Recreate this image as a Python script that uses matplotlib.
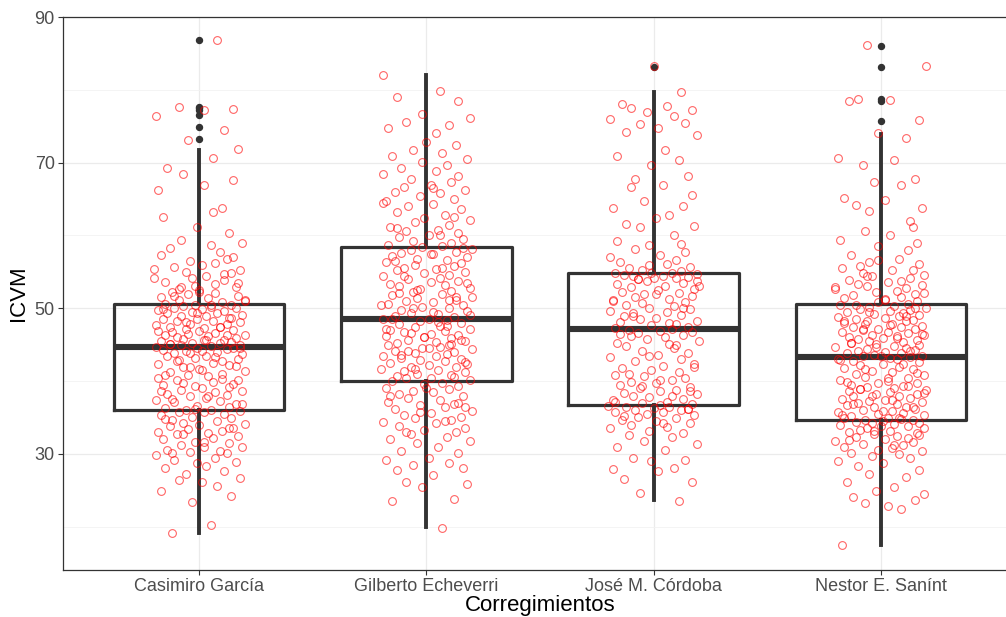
import matplotlib
matplotlib.use("Agg")
import matplotlib.pyplot as plt
from matplotlib.ticker import FixedLocator

categories = ["Casimiro García", "Gilberto Echeverri", "José M. Córdoba", "Nestor E. Sanínt"]

# Box statistics
whislo = [19.2, 20.0, 23.7, 17.5]
q1 = [36.0, 40.0, 36.7, 34.7]
med = [44.7, 48.5, 47.2, 43.3]
q3 = [50.6, 58.4, 54.9, 50.6]
whishi = [71.8, 82.1, 79.7, 74.0]
fliers_C = [73.3, 74.9, 76.5, 77.2, 77.5, 77.7, 86.9]
fliers_G = []
fliers_J = [83.2]
fliers_N = [75.7, 78.4, 78.8, 83.2, 86.0]

# Jittered observations (ICVM values)
C_y = [19.2, 20.3, 23.4, 24.2, 24.9, 25.6, 26.1, 26.4, 26.7, 27.2, 27.6, 28.1, 28.4, 28.7, 28.9, 29.2, 29.5, 29.8, 30.1, 30.3,
       30.4, 30.6, 30.9, 31.0, 31.2, 31.5, 31.7, 32.0, 32.2, 32.5, 32.7, 32.9, 33.0, 33.2, 33.4, 33.6, 33.9, 34.0, 34.1, 34.3,
       34.5, 34.7, 34.9, 35.1, 35.3, 35.5, 35.7, 35.8, 35.9, 36.0,
       36.1, 36.3, 36.5, 36.6, 36.9, 37.1, 37.3, 37.4, 37.7, 37.9, 38.1, 38.2, 38.5, 38.7, 38.8, 39.0, 39.3, 39.5, 39.6, 39.9,
       40.1, 40.2, 40.5, 40.7, 40.9, 41.0, 41.3, 41.4, 41.6, 41.9, 42.0, 42.2, 42.4, 42.5, 42.7, 42.9, 43.0, 43.2, 43.4, 43.5,
       43.7, 43.8, 44.0, 44.1, 44.2, 44.3, 44.4, 44.5, 44.6, 44.7,
       44.8, 44.9, 45.0, 45.1, 45.2, 45.3, 45.4, 45.5, 45.6, 45.7, 45.8, 45.9, 46.0, 46.2, 46.3, 46.4, 46.5, 46.6, 46.8, 46.9,
       47.0, 47.1, 47.3, 47.4, 47.5, 47.7, 47.8, 47.9, 48.1, 48.2, 48.3, 48.5, 48.6, 48.7, 48.9, 49.0, 49.1, 49.3, 49.4, 49.5,
       49.7, 49.8, 49.9, 50.0, 50.1, 50.2, 50.3, 50.4, 50.5, 50.6,
       50.8, 51.0, 51.2, 51.4, 51.5, 51.7, 51.9, 52.1, 52.3, 52.5, 52.7, 52.9, 53.0, 53.3, 53.6, 53.9, 54.2, 54.5, 54.9, 55.0,
       55.3, 55.7, 56.0, 56.5, 56.8, 57.3, 57.7, 58.3, 58.7, 59.0, 59.4, 60.3, 61.2, 62.5, 63.2, 63.8, 66.2, 66.9, 67.6, 68.5,
       69.2, 70.6, 71.9, 73.1, 74.5, 76.4, 77.2, 77.4, 77.6, 86.8,
       36.2, 36.8, 37.5, 38.0, 38.6, 39.2, 39.8, 40.3, 40.9, 41.5, 42.1, 42.7, 43.3, 43.9, 44.5, 45.1, 45.7, 46.3, 46.9, 47.5,
       48.1, 48.7, 49.3, 49.9, 50.5, 51.1, 51.7, 52.3, 52.9, 53.5, 54.1, 54.7, 55.4, 56.2, 57.0, 30.2, 31.6, 32.8, 33.5, 34.8,
       35.4, 27.0, 29.0, 31.1, 33.1, 35.0, 41.1, 43.6, 46.1, 48.8]
G_y = [19.8, 23.5, 23.8, 25.5, 25.9, 26.2, 27.1, 27.8, 28.1, 28.5, 28.8, 29.2, 29.5, 30.1, 30.4, 31.0, 31.5, 31.8, 32.0, 32.4,
       32.7, 33.0, 33.3, 33.6, 33.9, 34.2, 34.4, 34.6, 34.9, 35.1, 35.4, 35.6, 35.9, 36.2, 36.5, 36.7, 36.9, 37.2, 37.4, 37.7,
       37.9, 38.2, 38.5, 38.7, 38.9, 39.1, 39.4, 39.6, 39.8, 40.0,
       40.2, 40.4, 40.5, 40.7, 40.9, 41.0, 41.2, 41.4, 41.5, 41.7, 41.9, 42.0, 42.2, 42.4, 42.5, 42.7, 42.9, 43.0, 43.2, 43.4,
       43.5, 43.7, 43.9, 44.0, 44.2, 44.4, 44.5, 44.7, 44.9, 45.0, 45.2, 45.4, 45.5, 45.7, 45.9, 46.0, 46.2, 46.4, 46.5, 46.7,
       46.9, 47.0, 47.2, 47.4, 47.6, 47.8, 48.0, 48.2, 48.4, 48.5,
       48.6, 48.8, 49.0, 49.2, 49.4, 49.6, 49.8, 50.0, 50.2, 50.4, 50.6, 50.8, 51.0, 51.2, 51.4, 51.6, 51.8, 52.0, 52.2, 52.4,
       52.6, 52.8, 53.0, 53.2, 53.4, 53.6, 53.8, 54.0, 54.2, 54.4, 54.6, 54.8, 55.0, 55.2, 55.4, 55.6, 55.8, 56.0, 56.2, 56.4,
       56.6, 56.8, 57.0, 57.2, 57.4, 57.6, 57.8, 58.0, 58.2, 58.4,
       58.5, 58.7, 59.0, 59.2, 59.5, 59.8, 60.1, 60.3, 60.6, 60.8, 61.2, 61.5, 61.8, 62.1, 62.4, 62.8, 63.2, 63.6, 64.0, 64.3,
       64.7, 65.0, 65.4, 65.8, 66.0, 66.3, 66.7, 67.0, 67.4, 67.8, 68.1, 68.5, 68.8, 69.3, 69.7, 70.1, 70.5, 70.9, 71.3, 71.8,
       72.4, 72.9, 74.1, 74.8, 75.2, 75.6, 76.2, 76.7, 78.4, 79.0, 79.9, 82.1,
       40.6, 41.6, 42.6, 43.6, 44.6, 45.6, 46.6, 47.6, 48.6, 49.5, 50.5, 51.5, 52.5, 53.5, 54.5, 55.5, 56.5, 57.5, 58.3, 44.1,
       45.1, 46.1, 47.1, 48.1, 49.1, 50.1, 51.1, 52.1, 34.5, 35.8, 37.0, 38.0, 39.0, 36.4, 33.0, 60.0, 61.0, 62.5, 64.5, 66.5,
       68.3, 70.3, 42.1, 43.1, 53.1, 54.1, 55.1, 56.1, 31.2, 29.8]
J_y = [23.5, 24.7, 26.2, 26.5, 27.6, 27.9, 28.1, 29.0, 29.2, 29.4, 30.5, 31.0, 31.4, 31.8, 32.3, 32.6, 32.9, 33.2, 33.5, 33.7,
       34.0, 34.3, 34.5, 34.7, 34.9, 35.1, 35.3, 35.5, 35.7, 35.8, 36.0, 36.1, 36.2, 36.3, 36.4, 36.5, 36.6, 36.7,
       36.8, 37.0, 37.2, 37.4, 37.6, 37.8, 38.0, 38.2, 38.4, 38.6, 38.8, 39.0, 39.2, 39.5, 39.7, 39.9, 40.2, 40.4, 40.7, 40.9,
       41.2, 41.5, 41.8, 42.1, 42.4, 42.7, 43.0, 43.3, 43.6, 43.9, 44.2, 44.5, 44.8, 45.1, 45.3, 45.5, 45.8, 46.0, 46.2, 46.4,
       46.6, 46.8, 46.9, 47.0, 47.1,
       47.3, 47.5, 47.7, 47.9, 48.1, 48.3, 48.5, 48.7, 48.9, 49.1, 49.3, 49.5, 49.7, 49.9, 50.1, 50.3, 50.5, 50.7, 50.9, 51.1,
       51.3, 51.5, 51.7, 51.9, 52.1, 52.3, 52.5, 52.7, 52.9, 53.1, 53.3, 53.5, 53.7, 53.8, 54.0, 54.1, 54.2, 54.3, 54.4, 54.5,
       54.6, 54.7, 54.8, 54.9, 54.9,
       55.1, 55.3, 55.5, 55.7, 55.9, 56.1, 56.4, 56.7, 57.1, 57.3, 57.8, 58.2, 58.7, 58.9, 59.3, 60.0, 61.1, 61.3, 61.6, 62.4,
       62.8, 63.8, 64.1, 64.8, 65.5, 66.6, 67.0, 67.8, 68.2, 69.7, 70.3, 70.9, 71.8, 73.8, 74.2, 74.8, 75.3, 75.5, 76.0, 76.4,
       76.9, 77.2, 77.5, 77.8, 78.1, 79.7, 83.3,
       37.1, 37.9, 38.7, 39.4, 40.1, 41.0, 42.0, 43.5, 45.0, 46.5, 48.0, 49.0, 50.0, 51.0, 52.0, 53.0, 54.0, 34.2, 35.2, 36.2,
       33.0, 31.2, 29.8, 38.3, 39.1, 55.8, 57.5, 60.5, 63.0, 65.8, 44.0, 47.6, 50.6, 53.6, 28.5, 30.8, 40.6, 42.6, 52.6, 76.6]
N_y = [17.5, 22.5, 22.9, 23.3, 23.7, 24.1, 24.5, 24.9, 25.5, 26.2, 26.8, 27.3, 27.8, 28.3, 28.8, 29.1, 29.4, 29.7, 30.0, 30.2,
       30.4, 30.6, 30.8, 31.0, 31.2, 31.4, 31.6, 31.8, 32.0, 32.2, 32.4, 32.5, 32.7, 32.9, 33.0, 33.2, 33.3, 33.5, 33.6, 33.8,
       33.9, 34.0, 34.1, 34.2, 34.3, 34.4, 34.5, 34.6, 34.7,
       34.8, 34.9, 35.0, 35.2, 35.3, 35.5, 35.6, 35.8, 35.9, 36.1, 36.2, 36.4, 36.5, 36.7, 36.8, 37.0, 37.1, 37.3, 37.4, 37.6,
       37.7, 37.9, 38.0, 38.2, 38.3, 38.5, 38.6, 38.8, 38.9, 39.1, 39.2, 39.4, 39.5, 39.7, 39.8, 40.0, 40.2, 40.4, 40.6, 40.8,
       41.0, 41.2, 41.4, 41.6, 41.8, 42.0, 42.2, 42.4, 42.6, 42.8, 43.0, 43.1, 43.2, 43.3,
       43.4, 43.5, 43.6, 43.8, 43.9, 44.0, 44.2, 44.3, 44.4, 44.6, 44.7, 44.8, 45.0, 45.1, 45.2, 45.4, 45.5, 45.6, 45.8, 45.9,
       46.0, 46.2, 46.3, 46.4, 46.6, 46.7, 46.8, 47.0, 47.1, 47.2, 47.4, 47.5, 47.6, 47.8, 47.9, 48.0, 48.2, 48.3, 48.4, 48.6,
       48.7, 48.8, 49.0, 49.1, 49.2, 49.4, 49.5, 49.6, 49.8, 49.9, 50.0, 50.2, 50.3, 50.4, 50.6,
       50.8, 51.0, 51.2, 51.4, 51.6, 51.8, 52.0, 52.2, 52.4, 52.6, 52.8, 53.0, 53.2, 53.4, 53.6, 53.9, 54.1, 54.4, 54.6, 54.9,
       55.2, 55.5, 55.8, 56.1, 56.4, 56.8, 57.3, 58.0, 58.5, 59.0, 59.4, 60.1, 60.6, 61.2, 62.0, 63.3, 63.8, 64.2, 64.9, 65.2,
       67.0, 67.3, 67.8, 69.7, 70.3, 70.7, 73.4, 74.1, 75.9, 78.4, 78.6, 78.8, 83.3, 86.1,
       34.9, 35.4, 35.9, 36.4, 36.9, 37.4, 37.9, 38.4, 38.9, 39.4, 39.9, 40.5, 41.1, 41.7, 42.3, 42.9, 43.5, 44.1, 44.7, 45.3,
       45.9, 46.5, 47.1, 47.7, 48.3, 48.9, 49.5, 50.1, 50.5, 51.3, 52.1, 52.9, 53.7, 54.5, 55.3, 56.6, 31.3, 31.9, 32.6, 33.1,
       33.7, 34.3, 30.5, 29.3, 28.0, 26.5, 25.0, 23.9, 36.0, 38.1, 40.1, 42.5, 44.9, 47.3, 49.7, 57.8, 59.8, 61.6, 65.9, 68.9]

# Horizontal jitter of each observation (hundredths of a category step)
C_jx = [-12, 5, -3, 14, -17, 8, 1, -9, 18, -6, 11, -15, 3, -1, 16, -11, 7, -19, 12, -4,
        9, -14, 2, 19, -8, 13, -2, -16, 6, 17, -10, 4, -18, 10, -5, 15, -13, 0, 20, -7,
        8, -12, 14, -3, -17, 11, 2, -9, 18, -6, 5, -15, 13, -1, 16, -11, 9, -19, 3, -4,
        12, -14, 7, 19, -8, 1, -2, -16, 15, 6, -10, 17, -18, 4, -5, 10, -13, 20, 0, -7,
        -4, 13, -18, 6, 10, -9, 17, -2, 3, -14, 19, -11, 8, -6, 1, -16, 12, -1, 15, -19,
        5, -8, 18, -13, 9, -3, 14, -17, 2, 11, -7, 16, -10, 4, -15, 20, -5, 7, -12, 0,
        15, -6, 2, -13, 9, -19, 12, -4, 18, -10, 6, -1, -16, 13, 3, -8, 19, -14, 8, -3,
        11, -18, 1, 16, -11, 5, -7, 14, -2, -15, 10, 20, -9, 4, -17, 17, -5, 7, -12, 0,
        -9, 16, -2, 7, -15, 11, -20, 3, 14, -6, 18, -11, 1, -4, 12, -17, 9, -13, 5, 19,
        -8, 13, -1, -16, 6, 10, -18, 2, 15, -7,
        -14, 6, 17, -5, 11, -19, 2, 15, -9, 8, -2, 19, -12, 4, -17, 13, -7, 10, -15, 1,
        16, -10, 7, -4, 18, -13, 3, 12, -18, 9, -6, 14, -1, -16, 5, 20, -11, 0, -8, 17,
        -3, 11, -20, 7, 15, -12, 2, -7, 13, -15]
G_jx = [7, -15, 12, -2, 18, -9, 3, -13, 16, -6, 10, -18, 1, 14, -11, 5, -4, 19, -16, 9,
        -7, 13, -1, 17, -12, 4, -19, 11, -5, 15, -10, 2, 20, -14, 8, -3, 12, -17, 6, -8,
        16, -12, 3, -6, 10, -18, 14, -1, 7, -15, 19, -9, 2, -13, 11, -4, 17, -10, 5, -20,
        13, -7, 1, 18, -16, 8, -3, 15, -11, 4, -19, 9, -5, 12, -14, 20, -2, 6, -17, 10,
        -13, 4, 17, -8, 11, -1, -18, 14, 2, -10, 8, -16, 19, -5, 6, -12, 15, -3, 9, -19,
        1, 12, -14, 5, -7, 18, -11, 10, -2, 16, -17, 3, -9, 13, -4, 20, -15, 7, -6, 11,
        -3, 19, -12, 8, -16, 2, 14, -8, 6, -19, 10, -1, 17, -13, 4, -10, 12, -5, 15, -18,
        9, -4, 18, -15, 3, -11, 13, -7, 20, -2, 7, -17, 11, -6, 16, -12, 1, 14, -9, 5,
        -16, 10, -5, 19, -1, 8, -13, 15, -8, 3, -18, 12, -3, 6, -14, 17, -10, 2, 11, -7,
        14, -19, 4, -11, 9, -2, 18, -15, 7, -6, 13, 0,
        4, -17, 10, -9, 19, -2, 14, -13, 6, -19, 12, -5, 17, -11, 1, 15, -7, 9, -15, 3,
        -20, 13, -4, 18, -10, 7, -14, 2, 16, -8, 11, -1, -18, 5, 19, -6, 10, -12, 8, -3,
        14, -16, 0, 17, -9, 6, -13, 12, -19, 3]
J_jx = [11, -6, 17, -13, 2, -18, 9, -1, 14, -9, 5, -16, 19, -4, 8, -11, 13, -2, -19, 6,
        -10, 16, 1, -14, 10, -7, 18, -3, 4, -17, 12, -8, 15, 0, -12, 7, -20, 3, 17, -5,
        6, -18, 13, -2, -9, 19, -13, 3, 10, -6, 16, -15, 1, -10, 8, 14, -4, -17, 11, -1,
        -14, 4, 18, -8, 12, -19, 2, 15, -5, 9, -12, 7, -16, 20, -3, 5, -10, 13, -7, 17,
        3, -11, 8, -17, 15, -1, 10, -15, 19, -6, 1, -13, 12, -9, 6, -19, 16, -2, 9, -12,
        -5, 14, -18, 7, -8, 17, -4, 11, -14, 2, 18, -10, 5, -16, 13, -3, 19, -7, 0, 10,
        15, -9, 4, -13, 19, -1, 8, -17, 12, -5, -11, 16, -2, 6, -15, 10, -19, 3, 14, -8,
        -2, 12, -16, 9, -6, 18, -12, 1, 7, -18, 13, -4, 17, -10, 4,
        -8, 15, -1, 11, -16, 5, 19, -12, 2, -6, 14, -19, 9, -3, 17, -10, 6, -14, 12, 0,
        -17, 8, 16, -5, 3, -11, 18, -2, 10, -15, 7, -9, 13, -18, 1, 20, -7, 4, -13, 15]
N_jx = [-17, 9, 3, -7, 15, -12, 19, -2, 6, -15, 11, -5, 17, -10, 1, -19, 13, -4, 8, -13,
        18, -1, 5, -16, 10, -8, 14, -20, 2, 12, -11, 7, -3, 16, -14, 4, -9, 19, -6, 0,
        12, -18, 6, -4, 17, -11, 1, 14, -7,
        9, -16, 3, -13, 19, -1, 10, -19, 5, -8, 15,
        -3, 11, -15, 7, -10, 18, -5, 2, -17, 13, -12, 8, 16, -2, 4, -14, 20, -9, 6, -6,
        10, -13, 16, -1, 3, -18, 12, -7, 19, -11, 5, -4, 14, -16, 8, -9, 1, 17, -12, 7,
        -19, 4, 13, -8, 18, -3, 9, -15, 2, -10, 15, -6, 11, -20, 6, 17, -2, -13, 10, -5,
        16, -10, 1, -14, 7, 19, -4, 12, -17, 3, -8, 15, -1, 9, -12, 18, -7, 5, -16, 11,
        -6, 14, -11, 2, -19, 8, 17, -3, 10, -15, 4, 13, -9, 20, -5, 6, -18, 12, -1, 16,
        2, -16, 9, -12, 15, -2, 7, -20, 11, -6, 18, -10, 3, -14, 13, -4, 19, -8, 5, -17,
        -9, 17, -5, 8, -13, 12, -1, 16, -18, 4, -7, 14,
        13, -5, 18, -11, 2, -16, 9, -3, 15, -8, 6, -19, 11, -1, 17, -14, 4, -10, 20, -6,
        8, -17, 1, 14, -12, 5, -4, 19, -9, 12, -15, 3, 16, -7, 10, -18, 0, 13, -2, -13,
        7, 18, -8, 4, -16, 11, -5, 15, -11, 2, 19, -20, 9, -6, 14, -1, 6, -14, 17, -3]

y_ticks = [30, 50, 70, 90]
y_minor = [20, 40, 60, 80]

plt.rcParams["font.family"] = ["Liberation Sans", "DejaVu Sans"]

fig = plt.figure(figsize=(10.06, 6.17), dpi=100)
W, H = 1006, 617
ax = fig.add_axes([63 / W, 47 / H, 954 / W, 553 / H])
ax.set_facecolor("white")

positions = [1, 2, 3, 4]
ys = [C_y, G_y, J_y, N_y]
jxs = [C_jx, G_jx, J_jx, N_jx]
fls = [fliers_C, fliers_G, fliers_J, fliers_N]

stats = []
for i in range(4):
    stats.append(dict(med=med[i], q1=q1[i], q3=q3[i], whislo=whislo[i],
                      whishi=whishi[i], fliers=fls[i], label=categories[i]))

ax.bxp(stats, positions=positions, widths=0.75, showcaps=False,
       boxprops=dict(color="#333333", linewidth=2.3),
       whiskerprops=dict(color="#333333", linewidth=2.8),
       medianprops=dict(color="#333333", linewidth=4.4, solid_capstyle="butt"),
       flierprops=dict(marker="o", markerfacecolor="#333333", markeredgecolor="#333333",
                       markersize=4.3, linestyle="none"),
       zorder=2)

for p, y, jx in zip(positions, ys, jxs):
    xs = [p + j / 100 for j, _ in zip(jx, y)]
    ax.plot(xs, y[:len(xs)], linestyle="none", marker="o", markerfacecolor="none",
            markeredgecolor="red", markersize=5.6, markeredgewidth=0.8, alpha=0.6, zorder=3)

ax.set_xlim(0.4, 4.6)
ax.set_ylim(14.07, 90.0)
ax.set_xticks(positions)
ax.set_xticklabels(categories)
ax.yaxis.set_major_locator(FixedLocator(y_ticks))
ax.yaxis.set_minor_locator(FixedLocator(y_minor))
ax.grid(which="major", color="#EBEBEB", linewidth=0.9, zorder=0)
ax.grid(which="minor", axis="y", color="#F2F2F2", linewidth=0.6, zorder=0)
ax.set_axisbelow(True)
ax.tick_params(which="major", length=3.5, width=0.8, color="#333333",
               labelcolor="#4D4D4D", labelsize=13, pad=2.5)
ax.tick_params(which="minor", length=0)
for s in ax.spines.values():
    s.set_color("#333333")
    s.set_linewidth(0.9)

ax.set_xlabel("Corregimientos", fontsize=16, color="black", labelpad=0)
ax.set_ylabel("ICVM", fontsize=16, color="black", labelpad=4)

fig.savefig("out.png", dpi=100, facecolor="white")
